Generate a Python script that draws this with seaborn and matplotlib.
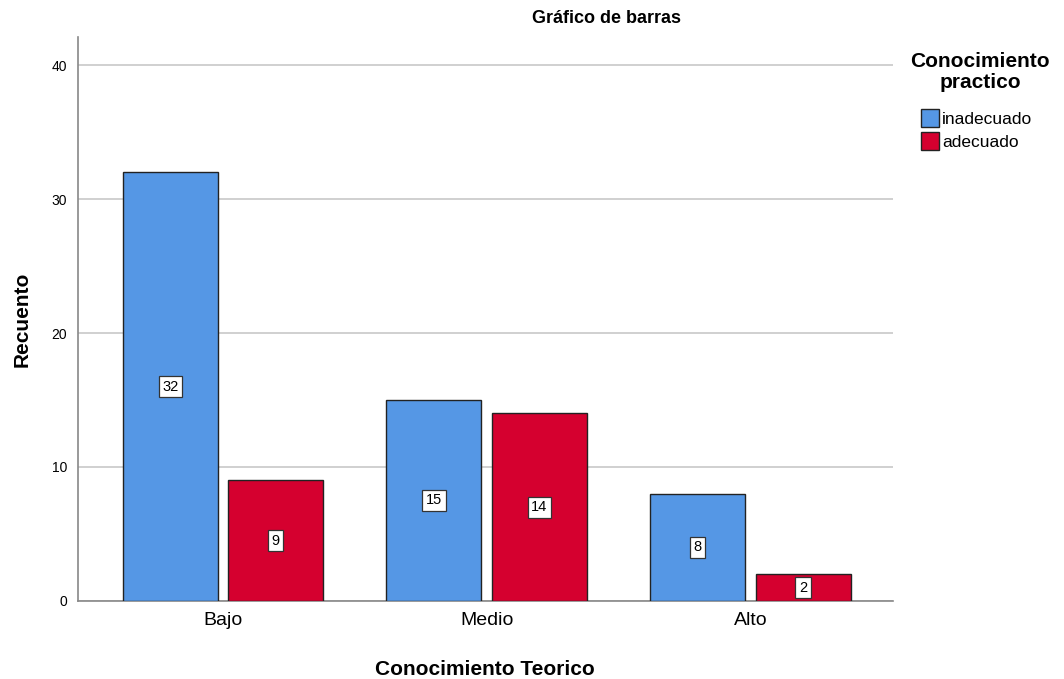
import numpy as np
import pandas as pd
import matplotlib
matplotlib.use('Agg')
import matplotlib.pyplot as plt
import seaborn as sns

# data
categories = ["Bajo", "Medio", "Alto"]
groups = ["inadecuado", "adecuado"]
inadecuado = [32, 15, 8]
adecuado = [9, 14, 2]
palette = ["#5597E5", "#D5002F"]

df = pd.DataFrame({
    "Conocimiento Teorico": categories * 2,
    "Conocimiento practico": [groups[0]] * 3 + [groups[1]] * 3,
    "Recuento": inadecuado + adecuado,
})

sns.set_style("white")
plt.rcParams['font.family'] = ['Liberation Sans', 'DejaVu Sans']
plt.rcParams['text.color'] = 'black'
plt.rcParams['axes.labelcolor'] = 'black'
plt.rcParams['xtick.color'] = 'black'
plt.rcParams['ytick.color'] = 'black'

fig = plt.figure(figsize=(10.64, 6.79), dpi=100)
ax = fig.add_axes([0.0733, 0.115, 0.7657, 0.8305])

sns.barplot(data=df, x="Conocimiento Teorico", y="Recuento",
            hue="Conocimiento practico", order=categories, hue_order=groups,
            palette=palette, width=0.8, gap=0.1, edgecolor="#222222",
            linewidth=1.0, saturation=1, ax=ax, zorder=3)

for cont in ax.containers:
    for bar in cont:
        h = bar.get_height()
        ax.text(bar.get_x() + bar.get_width() / 2, h / 2, f"{int(h)}",
                ha='center', va='center', fontsize=10.5, zorder=5,
                bbox=dict(boxstyle='square,pad=0.25', fc='white', ec='#333333', lw=0.9))

ax.set_ylim(0, 42.1)
ax.set_xlim(-0.55, 2.54)
ax.set_yticks([0, 10, 20, 30, 40])
ax.yaxis.grid(True, color='#c8c8c8', lw=1.2, zorder=0)
ax.set_axisbelow(True)
for s in ['top', 'right']:
    ax.spines[s].set_visible(False)
for s in ['left', 'bottom']:
    ax.spines[s].set_color('#888888')
    ax.spines[s].set_linewidth(1.2)
ax.tick_params(axis='y', labelsize=10, length=0, pad=8)
ax.tick_params(axis='x', labelsize=14, length=0, pad=8)

ax.set_xlabel("Conocimiento Teorico", fontsize=15, fontweight='bold', labelpad=22)
ax.set_ylabel("Recuento", fontsize=15, fontweight='bold', labelpad=14)
fig.text(0.57, 0.973, "Gráfico de barras", ha='center', va='center',
         fontsize=13, fontweight='bold')

ax.legend_.remove()
fig.text(980 / 1064, 1 - 72 / 679, "Conocimiento\npractico", ha='center', va='center',
         fontsize=15, fontweight='bold', linespacing=1.1)
handles = [plt.Rectangle((0, 0), 1, 1, fc=c, ec='#222222', lw=1) for c in palette]
fig.legend(handles, groups, loc='upper left', bbox_to_anchor=(909 / 1064, 1 - 97 / 679),
           frameon=False, fontsize=12.5, handlelength=1.0, handleheight=1.2,
           handletextpad=0.2, labelspacing=0.3, borderpad=0.2)

fig.savefig("out.png", dpi=100)
